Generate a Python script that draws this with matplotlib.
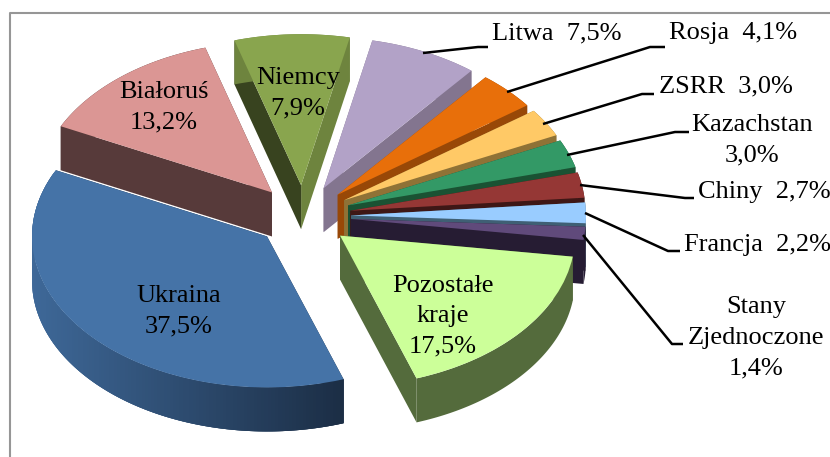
### Imports #############################################################################
import numpy as np
import matplotlib
matplotlib.use( "Agg" )
import matplotlib.pyplot as plt
from matplotlib.colors import to_rgb

### Data ################################################################################
names = [ "Ukraina", "Białoruś", "Niemcy", "Litwa", "Rosja", "ZSRR", "Kazachstan",
          "Chiny", "Francja", "Stany Zjednoczone", "Pozostałe kraje" ]
shares = [ 37.5, 13.2, 7.9, 7.5, 4.1, 3.0, 3.0, 2.7, 2.2, 1.4, 17.5 ]

top_colors = [ "#4573A7", "#DB9694", "#89A54E", "#B2A2C7", "#E86F0A", "#FFC966",
               "#339966", "#953735", "#99CCFF", "#604A7B", "#CCFF99" ]
# wall colour for the clockwise edge and arc of a slice, then for its other edge
wall_colors = [ "#1B2D44", "#573A3A", "#6E843E", "#83758F", "#984807", "#8F7236",
                "#1A5233", "#3E1716", "#3F5F74", "#261C33", "#546B3C" ]
edge_colors = [ "#1B2D44", "#573A3A", "#38431F", "#83758F", "#984807", "#8F7236",
                "#1A5233", "#3E1716", "#3F5F74", "#261C33", "#546B3C" ]

### Layout in picture pixels ############################################################
W, H = 830, 457
CX, CY = 303, 216      # pie centre
RX, RY = 235, 151      # radius on screen
DEPTH = 44 / RY

inner_labels = [ ( "Ukraina\n37,5%", 179, 311 ),
                 ( "Białoruś\n13,2%", 164, 107 ),
                 ( "Niemcy\n7,9%", 298, 93 ),
                 ( "Pozostałe\nkraje\n17,5%", 443, 316 ) ]
outer_labels = [ ( "Litwa  7,5%", 557, 33 ),
                 ( "Rosja  4,1%", 733, 33 ),
                 ( "ZSRR  3,0%", 726, 86 ),
                 ( "Kazachstan\n3,0%", 752, 140 ),
                 ( "Chiny  2,7%", 764, 192 ),
                 ( "Francja  2,2%", 757, 245 ),
                 ( "Stany\nZjednoczone\n1,4%", 756, 338 ) ]
leaders = [ [ (423,53), (478,47), (488,47) ],
            [ (507,92), (650,47), (665,47) ],
            [ (543,124), (642,94), (654,94) ],
            [ (567,155), (675,132), (689,132) ],
            [ (580,185), (685,198), (694,198) ],
            [ (585,213), (668,251), (680,251) ],
            [ (583,235), (672,344), (683,344) ] ]
frame_line = [ (10,457), (10,13), (830,13) ]


#########################################################################################
### Function: px
### Inputs: x and y in picture pixels
### Returns: the same point in data units of the pie axes
#########################################################################################
def px( x, y ):
    return ( x - CX ) / RX, ( CY - y ) / RY


#########################################################################################
### Function: rim
### Inputs: wedge, array of angles in degrees
### Returns: x and y arrays of points on the rim of the wedge
#########################################################################################
def rim( wedge, angles ):
    a = np.radians( angles )
    return wedge.center[0] + wedge.r * np.cos( a ), wedge.center[1] + wedge.r * np.sin( a )


#########################################################################################
### Function: wall
### Inputs: axes, x and y arrays of the top edge, colour, zorder
### Returns: none (fills the side wall hanging under the edge)
#########################################################################################
def wall( ax, xs, ys, color, z ):
    xs, ys = np.asarray( xs ), np.asarray( ys )
    ax.fill( np.r_[ xs, xs[::-1] ], np.r_[ ys, ys[::-1] - DEPTH ],
             color=color, lw=0, zorder=z )


### Plot ################################################################################
plt.rcParams[ "font.family" ] = [ "Liberation Serif", "DejaVu Serif" ]

fig = plt.figure( figsize=( W / 100, H / 100 ), dpi=100 )
ax = fig.add_axes( [ 0, 0, 1, 1 ] )

wedges, _ = ax.pie( shares, colors=top_colors, startangle=-71, counterclock=False,
                    explode=[ 48 / RX ] * len( shares ), radius=1,
                    wedgeprops={ "linewidth": 0 } )
ax.set_aspect( "auto" )
ax.set_xlim( px( 0, 0 )[0], px( W, 0 )[0] )
ax.set_ylim( px( 0, H )[1], px( 0, 0 )[1] )
ax.axis( "off" )

# back slices first, front slices last
for i, w in enumerate( wedges ):
    mid = np.radians( ( w.theta1 + w.theta2 ) / 2 )
    z = 10 - 5 * np.sin( mid )
    w.set_zorder( z + 0.5 )

    for angle, color in ( ( w.theta1, wall_colors[i] ), ( w.theta2, edge_colors[i] ) ):
        ex, ey = rim( w, np.array( [ angle ] ) )
        wall( ax, [ w.center[0], ex[0] ], [ w.center[1], ey[0] ], color, z )

    steps = np.linspace( w.theta1, w.theta2, 160 )
    if i == 0:
        # the big slice darkens from left to right, strips overlap to hide seams
        left = np.array( to_rgb( "#3E6898" ) )
        right = np.array( to_rgb( wall_colors[i] ) )
        for k in range( len( steps ) - 1 ):
            xs, ys = rim( w, steps[ k:k + 4 ] )
            t = np.clip( ( xs[0] - px( 32, 0 )[0] ) / ( 313 / RX ), 0, 1 )
            wall( ax, xs, ys, ( 1 - t ) * left + t * right, z + 0.1 )
    else:
        xs, ys = rim( w, steps )
        wall( ax, xs, ys, wall_colors[i], z + 0.1 )

for line in leaders:
    pts = np.array( [ px( *p ) for p in line ] )
    ax.plot( pts[:,0], pts[:,1], color="black", lw=1.8, zorder=30, solid_capstyle="butt" )

for text, x, y in inner_labels + outer_labels:
    tx, ty = px( x, y )
    ax.text( tx, ty, text, fontsize=19, ha="center", va="center", color="black",
             linespacing=1.5, zorder=31, clip_on=False )

pts = np.array( [ px( *p ) for p in frame_line ] )
ax.plot( pts[:,0], pts[:,1], color="#969696", lw=1.5, zorder=1, clip_on=True )

fig.savefig( "out.png", dpi=100 )
